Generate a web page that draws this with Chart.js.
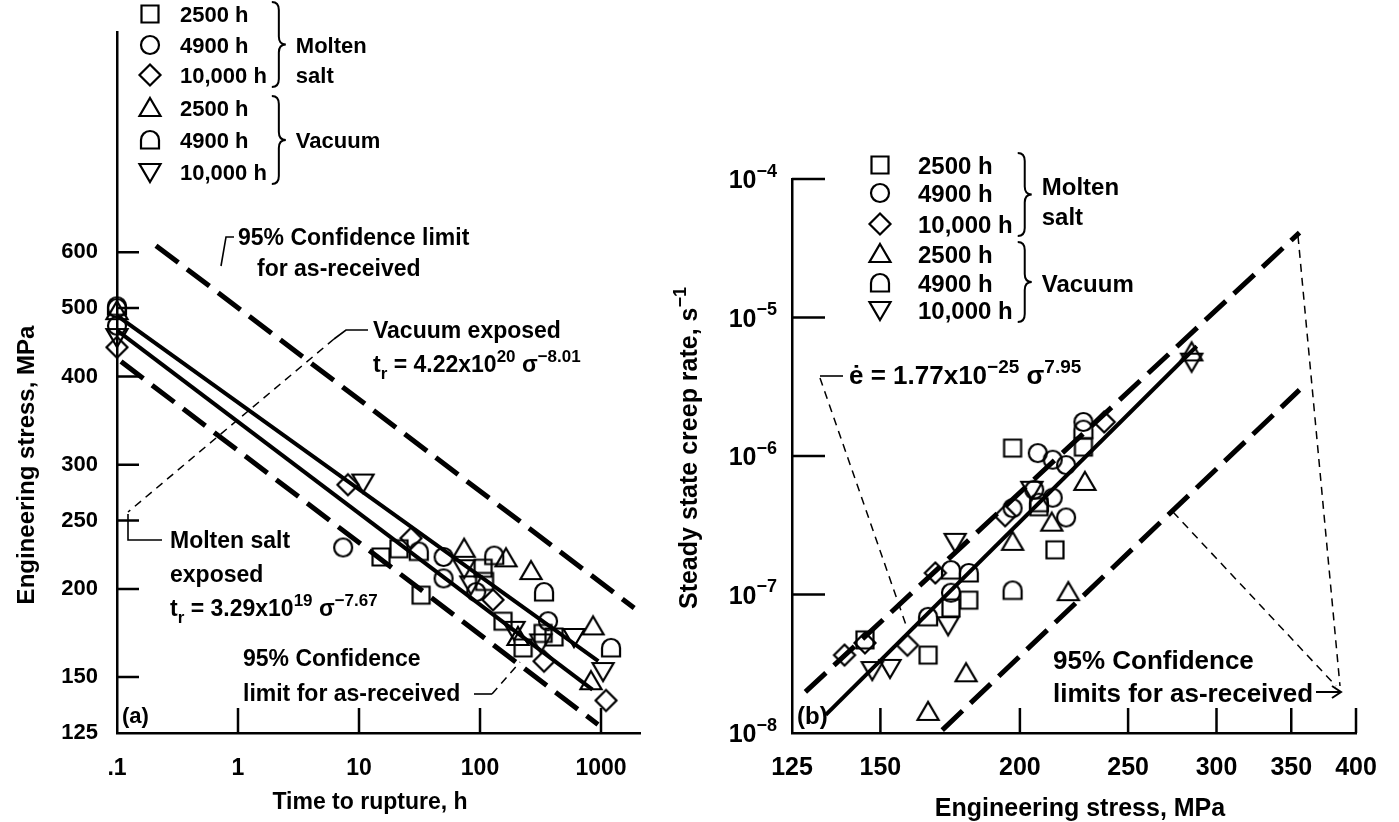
<!DOCTYPE html>
<html>
<head>
<meta charset="utf-8">
<script src="https://cdn.jsdelivr.net/npm/chart.js@4"></script>
<style>
html, body { margin: 0; padding: 0; background: #fff; }
#wrap { position: relative; width: 1399px; height: 822px; overflow: hidden; }
canvas { position: absolute; top: 0; }
#leftChart { left: 0; }
#rightChart { left: 660px; }
</style>
</head>
<body>
<div id="wrap">
  <canvas id="leftChart" width="660" height="822"></canvas>
  <canvas id="rightChart" width="739" height="822"></canvas>
</div>
<script>
// ---- panel (a): time to rupture (h) vs engineering stress (MPa)
const timeTicks = [0.1, 1, 10, 100, 1000]
const timeTickLabels = ['.1', '1', '10', '100', '1000']
const stressTicksA = [125, 150, 200, 250, 300, 400, 500, 600]

const a_salt2500 = [[15.2,222],[21.4,228],[32.6,196],[106,214],[109,205],[155,180],[227,165],[332,173],[409,171]]
const a_salt4900 = [[0.1,500],[0.1,472],[7.4,229],[50,222],[50,207],[93,198],[365,180]]
const a_salt10000 = [[0.1,440],[8.1,281],[26.9,236],[128,193],[338,158],[1100,139]]
const a_vac2500 = [[0.1,495],[74,228],[164,221],[264,212],[206,171],[860,177],[826,148]]
const a_vac4900 = [[0.1,503],[31.2,226],[131,223],[338,198],[1210,165]]
const a_vac10000 = [[0.1,455],[10.8,283],[74,214],[84,203],[191,175],[318,168],[598,171],[1040,153]]

const a_vacuumFit = [[0.1,488],[950,158]]
const a_saltFit = [[0.1,465],[850,144]]
const a_upper95 = [[0.21,613],[1880,188]]
const a_lower95 = [[0.108,420],[944,128.5]]

// ---- panel (b): engineering stress (MPa) vs steady state creep rate (1/s)
const stressTicksB = [125, 150, 200, 250, 300, 350, 400]
const rateTicks = [1e-8, 1e-7, 1e-6, 1e-5, 1e-4]
const rateTickExp = ['\u22128', '\u22127', '\u22126', '\u22125', '\u22124']

const b_salt2500 = [[197,1.14e-6],[228,1.16e-6],[215,2.1e-7],[208,4.3e-7],[180,9.1e-8],[173.5,8.0e-8],[165.5,3.65e-8],[145.3,4.7e-8]]
const b_salt4900 = [[207.5,1.05e-6],[214,9.4e-7],[220,8.6e-7],[228,1.76e-6],[214,5.0e-7],[220,3.6e-7],[206,5.7e-7],[197,4.2e-7],[173.5,1.03e-7]]
const b_salt10000 = [[238,1.76e-6],[194,3.7e-7],[168,1.43e-7],[158.6,4.3e-8],[145.3,4.47e-8],[139.3,3.65e-8]]
const b_vac2500 = [[228.7,6.5e-7],[213.6,3.3e-7],[197,2.4e-7],[221,1.04e-7],[179,2.7e-8],[165.5,1.42e-8],[285,5.6e-6]]
const b_vac4900 = [[228,1.55e-6],[208,4.6e-7],[197,1.07e-7],[173.5,1.5e-7],[180,1.43e-7],[165.5,6.9e-8]]
const b_vac10000 = [[205,5.7e-7],[175,2.4e-7],[172.5,6.0e-8],[153,2.95e-8],[147.5,2.85e-8],[285,4.8e-6]]

const b_fit = [[134,1.35e-8],[288,6.2e-6]]
const b_upper95 = [[128.5,1.98e-8],[356,4.1e-5]]
const b_lower95 = [[170.4,1.05e-8],[356,3.0e-6]]

const seriesLabels = ['2500 h', '4900 h', '10,000 h', '2500 h', '4900 h', '10,000 h']
const seriesMarkers = ['square', 'circle', 'diamond', 'up', 'dome', 'down']

const FONT = '"Liberation Sans", Arial, Helvetica, sans-serif'
Chart.defaults.font.family = FONT
Chart.defaults.font.weight = 'bold'
Chart.defaults.color = '#000'

function makeMarker(kind){
  const s = 28, c = s / 2
  const cv = document.createElement('canvas')
  cv.width = s; cv.height = s
  const g = cv.getContext('2d')
  g.strokeStyle = '#000'; g.lineWidth = 2.2
  g.beginPath()
  if (kind === 'square') g.rect(c - 8.5, c - 8.5, 17, 17)
  else if (kind === 'circle') g.arc(c, c, 9, 0, Math.PI * 2)
  else if (kind === 'diamond') { g.moveTo(c, c - 10.5); g.lineTo(c + 10.5, c); g.lineTo(c, c + 10.5); g.lineTo(c - 10.5, c); g.closePath() }
  else if (kind === 'up') { g.moveTo(c, c - 10); g.lineTo(c + 10.5, c + 8); g.lineTo(c - 10.5, c + 8); g.closePath() }
  else if (kind === 'down') { g.moveTo(c, c + 10); g.lineTo(c + 10.5, c - 8); g.lineTo(c - 10.5, c - 8); g.closePath() }
  else if (kind === 'dome') { g.moveTo(c - 9, c + 8.5); g.lineTo(c - 9, c); g.arc(c, c, 9, Math.PI, 0); g.lineTo(c + 9, c + 8.5); g.closePath() }
  g.stroke()
  return cv
}
const markers = seriesMarkers.map(makeMarker)

const toXY = arr => arr.map(([x, y]) => ({x, y}))
function pointSets(list){
  return list.map((d, i) => ({data: toXY(d), pointStyle: markers[i], pointRadius: 9, showLine: false, clip: false}))
}
function lineSet(d, dash, w){
  return {data: toXY(d), showLine: true, pointRadius: 0, borderColor: '#000', borderWidth: w,
    borderDash: dash, borderCapStyle: 'butt', clip: false}
}

// ---- drawing helpers
function rich(ctx, x, y, parts, size, align){
  const small = Math.round(size * 0.72)
  let w = 0
  const segs = parts.map(([t, m]) => {
    const fs = m ? small : size
    ctx.font = `bold ${fs}px ${FONT}`
    const tw = ctx.measureText(t).width
    w += tw
    return {t, m, fs, tw}
  })
  let cx = align === 'right' ? x - w : align === 'center' ? x - w / 2 : x
  ctx.textAlign = 'left'; ctx.textBaseline = 'alphabetic'; ctx.fillStyle = '#000'
  const baseY = y + size * 0.36
  segs.forEach(s => {
    ctx.font = `bold ${s.fs}px ${FONT}`
    const dy = s.m === 'sup' ? -size * 0.45 : s.m === 'sub' ? size * 0.28 : 0
    ctx.fillText(s.t, cx, baseY + dy)
    cx += s.tw
  })
  return w
}
function text(ctx, x, y, str, size, align){ return rich(ctx, x, y, [[str, '']], size || 23, align) }
function path(ctx, pts, dash, w){
  ctx.save()
  ctx.strokeStyle = '#000'; ctx.lineWidth = w || 1.6
  ctx.setLineDash(dash || [])
  ctx.beginPath()
  pts.forEach(([x, y], i) => i ? ctx.lineTo(x, y) : ctx.moveTo(x, y))
  ctx.stroke()
  ctx.restore()
}
function brace(ctx, x, y1, y2){
  const m = (y1 + y2) / 2, w = 7
  ctx.save(); ctx.lineWidth = 2; ctx.strokeStyle = '#000'
  ctx.beginPath()
  ctx.moveTo(x, y1)
  ctx.quadraticCurveTo(x + w, y1, x + w, y1 + 8)
  ctx.lineTo(x + w, m - 8)
  ctx.quadraticCurveTo(x + w, m, x + 2 * w, m)
  ctx.quadraticCurveTo(x + w, m, x + w, m + 8)
  ctx.lineTo(x + w, y2 - 8)
  ctx.quadraticCurveTo(x + w, y2, x, y2)
  ctx.stroke(); ctx.restore()
}
function legend(ctx, markerX, textX, rows, opts){
  let maxW = 0
  rows.forEach((y, i) => {
    ctx.drawImage(markers[i], markerX - markers[i].width / 2, y - markers[i].height / 2)
    maxW = Math.max(maxW, text(ctx, textX, y, seriesLabels[i], opts.size))
  })
  const bx = textX + maxW + 5
  brace(ctx, bx, rows[0] - 12, rows[2] + 12)
  brace(ctx, bx, rows[3] - 12, rows[5] + 12)
  text(ctx, bx + 24, opts.moltenY, 'Molten', opts.size)
  text(ctx, bx + 24, opts.saltY, 'salt', opts.size)
  text(ctx, bx + 24, rows[4], 'Vacuum', opts.size)
}
function innerTicks(ctx, chart, xVals, yVals, xLen, yLen){
  const {chartArea: a, scales: {x, y}} = chart
  ctx.save(); ctx.strokeStyle = '#000'; ctx.lineWidth = 2.5
  ctx.beginPath()
  yVals.forEach(v => { if (v === y.min) return; const p = y.getPixelForValue(v); ctx.moveTo(a.left, p); ctx.lineTo(a.left + yLen, p) })
  xVals.forEach(v => { if (v === x.min) return; const p = x.getPixelForValue(v); ctx.moveTo(p, a.bottom); ctx.lineTo(p, a.bottom - xLen) })
  ctx.stroke(); ctx.restore()
}

const leftDecor = {
  id: 'leftDecor',
  afterDraw(chart){
    const ctx = chart.ctx
    innerTicks(ctx, chart, timeTicks, stressTicksA, 25, 22)
    ctx.save()
    legend(ctx, 150, 180, [14, 45, 75, 108, 140, 172], {moltenY: 45, saltY: 75, size: 22})
    // upper confidence label
    text(ctx, 238, 237, '95% Confidence limit')
    text(ctx, 257, 268, 'for as-received')
    path(ctx, [[234, 237], [226, 237], [221, 266]])
    // vacuum exposed
    text(ctx, 373, 330, 'Vacuum exposed')
    rich(ctx, 373, 364, [['t', ''], ['r', 'sub'], [' = 4.22x10', ''], ['20', 'sup'], [' \u03c3', ''], ['\u22128.01', 'sup']], 23)
    path(ctx, [[368, 330], [346, 330], [334, 339]])
    path(ctx, [[334, 339], [128, 512]], [8, 6], 1.5)
    // molten salt exposed
    path(ctx, [[128, 514], [128, 540], [162, 540]])
    text(ctx, 170, 540, 'Molten salt')
    text(ctx, 170, 574, 'exposed')
    rich(ctx, 170, 608, [['t', ''], ['r', 'sub'], [' = 3.29x10', ''], ['19', 'sup'], [' \u03c3', ''], ['\u22127.67', 'sup']], 23)
    // lower confidence label
    text(ctx, 243, 658, '95% Confidence')
    text(ctx, 243, 693, 'limit for as-received')
    path(ctx, [[474, 694], [492, 694]])
    path(ctx, [[492, 694], [520, 662]], [8, 6], 1.5)
    text(ctx, 122, 715, '(a)', 22)
    // axis titles
    text(ctx, 370, 801, 'Time to rupture, h', 23, 'center')
    ctx.translate(25, 465); ctx.rotate(-Math.PI / 2)
    text(ctx, 0, 0, 'Engineering stress, MPa', 24, 'center')
    ctx.restore()
  }
}

const RIGHT_OFFSET = 660
const rightDecor = {
  id: 'rightDecor',
  afterDraw(chart){
    const ctx = chart.ctx
    const ys = chart.scales.y
    innerTicks(ctx, chart, stressTicksB, rateTicks, 25, 33)
    ctx.save()
    rateTicks.forEach((v, i) => {
      rich(ctx, chart.chartArea.left - 15, ys.getPixelForValue(v), [['10', ''], [rateTickExp[i], 'sup']], 25, 'right')
    })
    ctx.translate(-RIGHT_OFFSET, 0)
    legend(ctx, 880, 918, [165, 193, 224, 254, 283, 310], {moltenY: 186, saltY: 216, size: 24})
    rich(ctx, 849, 375, [['\u0117 = 1.77x10', ''], ['\u221225', 'sup'], [' \u03c3', ''], ['7.95', 'sup']], 26)
    path(ctx, [[843, 376], [820, 376]])
    path(ctx, [[820, 378], [907, 628]], [8, 6], 1.5)
    text(ctx, 1053, 660, '95% Confidence', 26)
    text(ctx, 1053, 693, 'limits for as-received', 26)
    path(ctx, [[1298, 236], [1340, 686]], [8, 6], 1.5)
    path(ctx, [[1173, 512], [1336, 686]], [8, 6], 1.5)
    path(ctx, [[1316, 692], [1340, 692]], null, 2)
    path(ctx, [[1332, 686], [1341, 692], [1332, 698]], null, 2)
    text(ctx, 797, 715, '(b)', 24)
    text(ctx, 1080, 807, 'Engineering stress, MPa', 25, 'center')
    ctx.translate(688, 448); ctx.rotate(-Math.PI / 2)
    rich(ctx, 0, 0, [['Steady state creep rate, s', ''], ['\u22121', 'sup']], 25, 'center')
    ctx.restore()
  }
}

function axisOpts(min, max, ticks, extra){
  return Object.assign({
    type: 'logarithmic', min, max,
    grid: {display: false, drawTicks: false},
    border: {display: true, color: '#000', width: 2.5},
    afterBuildTicks: s => { s.ticks = ticks.map(v => ({value: v})) }
  }, extra)
}

new Chart(document.getElementById('leftChart'), {
  type: 'scatter',
  data: {
    datasets: [
      ...pointSets([a_salt2500, a_salt4900, a_salt10000, a_vac2500, a_vac4900, a_vac10000]),
      lineSet(a_vacuumFit, [], 4),
      lineSet(a_saltFit, [], 4),
      lineSet(a_upper95, [28, 11], 5),
      lineSet(a_lower95, [28, 11], 5)
    ]
  },
  options: {
    responsive: false, animation: false, devicePixelRatio: 1, events: [],
    layout: {padding: {left: 0, top: 2, right: 20, bottom: 0}},
    plugins: {legend: {display: false}, tooltip: {enabled: false}},
    scales: {
      x: axisOpts(0.1, 2100, timeTicks, {
        afterFit: s => { s.height = 89 },
        ticks: {padding: 22, font: {size: 23, weight: 'bold'}, color: '#000', autoSkip: false, maxRotation: 0,
          callback: v => timeTickLabels[timeTicks.indexOf(v)] || ''}
      }),
      y: axisOpts(125, 1230, stressTicksA, {
        afterFit: s => { s.width = 117 },
        ticks: {padding: 19, font: {size: 22, weight: 'bold'}, color: '#000', autoSkip: false,
          callback: v => stressTicksA.includes(v) ? String(v) : ''}
      })
    }
  },
  plugins: [leftDecor]
})

new Chart(document.getElementById('rightChart'), {
  type: 'scatter',
  data: {
    datasets: [
      ...pointSets([b_salt2500, b_salt4900, b_salt10000, b_vac2500, b_vac4900, b_vac10000]),
      lineSet(b_fit, [], 4),
      lineSet(b_upper95, [28, 11], 5),
      lineSet(b_lower95, [28, 11], 5)
    ]
  },
  options: {
    responsive: false, animation: false, devicePixelRatio: 1, events: [],
    layout: {padding: {left: 0, top: 179, right: 43, bottom: 0}},
    plugins: {legend: {display: false}, tooltip: {enabled: false}},
    scales: {
      x: axisOpts(125, 400, stressTicksB, {
        afterFit: s => { s.height = 89 },
        ticks: {padding: 20, font: {size: 25, weight: 'bold'}, color: '#000', autoSkip: false, maxRotation: 0,
          callback: v => stressTicksB.includes(v) ? String(v) : ''}
      }),
      y: axisOpts(1e-8, 1e-4, rateTicks, {
        afterFit: s => { s.width = 132 },
        ticks: {display: false}
      })
    }
  },
  plugins: [rightDecor]
})
</script>
</body>
</html>
